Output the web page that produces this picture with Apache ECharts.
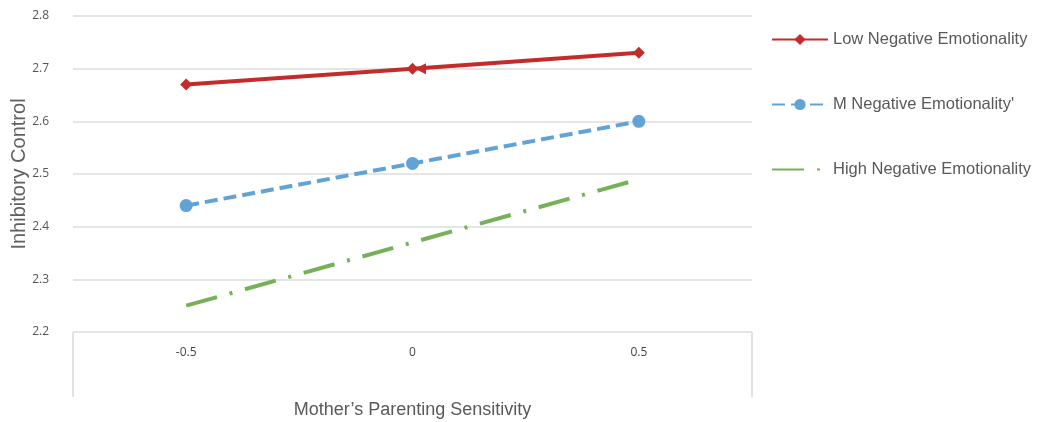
<!DOCTYPE html>
<html><head><meta charset="utf-8">
<script src="https://cdn.jsdelivr.net/npm/echarts@6/dist/echarts.min.js"></script>
<style>html,body{margin:0;padding:0;background:#fff}#c{width:1037px;height:422px}</style>
</head><body><div id="c"></div>
<script>
const xValues = [-0.5, 0, 0.5];
const xLabels = ['-0.5', '0', '0.5'];
const lowNE = [2.67, 2.70, 2.73];
const midNE = [2.44, 2.52, 2.60];
const highNE = [2.25, 2.37, 2.49];
const seriesNames = ['Low Negative Emotionality', "M Negative Emotionality'", 'High Negative Emotionality'];

const pairs = arr => xValues.map((x, i) => [x, arr[i]]);
const chart = echarts.init(document.getElementById('c'));
chart.setOption({
  animation: false,
  backgroundColor: '#fff',
  grid: {left: 73, right: 285, top: 16, bottom: 90, outerBoundsMode: 'none', containLabel: false},
  legend: {
    orient: 'vertical', left: 766, top: 26, itemGap: 48, itemWidth: 56, itemHeight: 14,
    textStyle: {fontFamily: '"Liberation Sans", Arial, sans-serif', fontSize: 16.5, color: '#595959'},
    data: [seriesNames[0], seriesNames[1], {name: seriesNames[2], itemStyle: {opacity: 0}}]
  },
  xAxis: {
    type: 'value', min: -0.75, max: 0.75,
    name: 'Mother\u2019s Parenting Sensitivity', nameLocation: 'middle', nameGap: 69,
    nameTextStyle: {fontFamily: '"Liberation Sans", Arial, sans-serif', fontSize: 18, color: '#595959'},
    axisLine: {show: false},
    axisTick: {show: true, customValues: [-0.75, 0.75], length: 65, lineStyle: {color: '#d9d9d9', width: 1.5}},
    axisLabel: {customValues: xValues, formatter: v => xLabels[xValues.indexOf(v)] ?? '', margin: 15,
      fontFamily: 'Open Sans, Arial, sans-serif', fontSize: 12, color: '#444'},
    splitLine: {show: false}
  },
  yAxis: {
    type: 'value', min: 2.2, max: 2.8, interval: 0.1,
    name: 'Inhibitory Control', nameLocation: 'middle', nameGap: 44, nameRotate: 90, nameMoveOverlap: false,
    nameTextStyle: {fontFamily: '"Liberation Sans", Arial, sans-serif', fontSize: 20, color: '#606060'},
    axisLine: {show: false}, axisTick: {show: false},
    axisLabel: {formatter: v => v.toFixed(1), margin: 24, fontFamily: 'Open Sans, Arial, sans-serif', fontSize: 12, color: '#555'},
    splitLine: {lineStyle: {color: '#dcdcdc', width: 1.5}}
  },
  series: [
    {name: seriesNames[0], type: 'line', data: pairs(lowNE), symbol: 'diamond', symbolSize: 12,
      itemStyle: {color: '#c42b2b'}, lineStyle: {width: 4, color: '#c42b2b'},
      markPoint: {symbol: 'triangle', symbolSize: [11, 11], symbolRotate: 90, symbolOffset: [8, 0],
        itemStyle: {color: '#c42b2b'}, label: {show: false},
        data: [{coord: [xValues[1], lowNE[1]]}]}},
    {name: seriesNames[1], type: 'line', data: pairs(midNE), symbol: 'circle', symbolSize: 13,
      itemStyle: {color: '#62a3d6'}, lineStyle: {width: 4, color: '#62a3d6', type: [13, 6]}},
    {name: seriesNames[2], type: 'line', data: pairs(highNE), symbol: 'none',
      itemStyle: {color: '#76b15a'}, lineStyle: {width: 4, color: '#76b15a', type: [32, 13, 3, 13]}}
  ]
});
</script></body></html>
